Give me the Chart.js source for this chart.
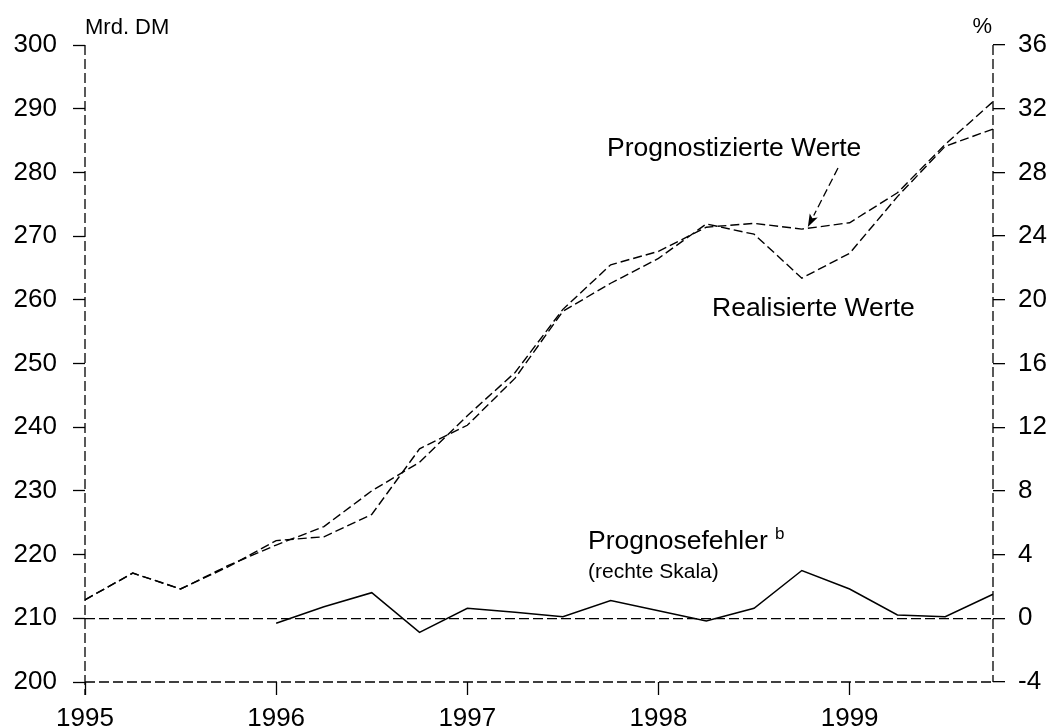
<!DOCTYPE html>
<html><head><meta charset="utf-8">
<script src="https://cdn.jsdelivr.net/npm/chart.js@4.4.1/dist/chart.umd.min.js"></script>
<style>html,body{margin:0;padding:0;background:#fff}#wrap{width:1053px;height:728px}</style>
</head><body><div id="wrap"><canvas id="c" width="1053" height="728"></canvas></div>
<script>
// ---- data ----
const quarters = ['1995 Q1','1995 Q2','1995 Q3','1995 Q4','1996 Q1','1996 Q2','1996 Q3','1996 Q4',
  '1997 Q1','1997 Q2','1997 Q3','1997 Q4','1998 Q1','1998 Q2','1998 Q3','1998 Q4',
  '1999 Q1','1999 Q2','1999 Q3','1999 Q4'];
const yearLabels = ['1995','1996','1997','1998','1999'];
const forecast = [212.9,217.1,214.6,218.3,221.5,224.4,230.0,234.5,241.8,248.6,258.5,265.5,267.6,271.4,272.0,271.1,272.1,276.8,284.4,291.1];
const realized = [212.9,217.1,214.6,218.1,222.2,222.8,226.3,236.6,240.3,247.7,258.2,262.6,266.5,271.9,270.3,263.4,267.3,276.2,284.1,286.8];
const forecastError = [null,null,null,null,-0.31,0.73,1.61,-0.88,0.63,0.38,0.10,1.11,0.48,-0.17,0.63,3.0,1.84,0.21,0.10,1.51];
const leftTickLabels = [200,210,220,230,240,250,260,270,280,290,300];
const rightTickLabels = [-4,0,4,8,12,16,20,24,28,32,36];
const leftUnit = 'Mrd. DM';
const rightUnit = '%';
const labelForecast = 'Prognostizierte Werte';
const labelRealized = 'Realisierte Werte';
const labelError = 'Prognosefehler';
const labelErrorNote = 'b';
const labelErrorScale = '(rechte Skala)';

const FONT = '"Liberation Sans", Arial, Helvetica, sans-serif';
const AXIS_DASH = [10, 4];
const LINE_DASH = [9, 4];

const framePlugin = {
  id: 'frame',
  afterDraw(chart) {
    const {ctx, chartArea: a, scales} = chart;
    const xs = scales.x, ys = scales.y;
    ctx.save();
    ctx.strokeStyle = '#000';
    ctx.lineWidth = 1.3;
    ctx.setLineDash(AXIS_DASH);
    ctx.beginPath();
    ctx.moveTo(a.left, a.top); ctx.lineTo(a.left, a.bottom + 13);
    ctx.moveTo(a.right, a.top); ctx.lineTo(a.right, a.bottom);
    ctx.moveTo(a.left, a.bottom); ctx.lineTo(a.right, a.bottom);
    ctx.stroke();
    ctx.setLineDash([]);
    // units
    ctx.fillStyle = '#000';
    ctx.font = '22px ' + FONT;
    ctx.textBaseline = 'alphabetic';
    ctx.textAlign = 'left';
    ctx.fillText(leftUnit, a.left, 34);
    ctx.textAlign = 'right';
    ctx.fillText(rightUnit, a.right - 1, 33);
    // annotations
    ctx.textAlign = 'left';
    ctx.font = '26.5px ' + FONT;
    ctx.fillText(labelForecast, 607, 156);
    ctx.fillText(labelRealized, 712, 316);
    ctx.fillText(labelError, 588, 549);
    const w = ctx.measureText(labelError + ' ').width;
    ctx.font = '17px ' + FONT;
    ctx.fillText(labelErrorNote, 588 + w, 539);
    ctx.font = '21px ' + FONT;
    ctx.fillText(labelErrorScale, 588, 578);
    // arrow to forecast value in 1998 Q4
    const tipX = xs.getPixelForValue(15) + 6;
    const tipY = ys.getPixelForValue(forecast[15]) - 2;
    const sx = 838, sy = 168;
    const ang = Math.atan2(tipY - sy, tipX - sx);
    const hl = 13, hw = 4.5;
    const bx = tipX - hl * Math.cos(ang), by = tipY - hl * Math.sin(ang);
    ctx.lineWidth = 1.3;
    ctx.setLineDash([8, 4]);
    ctx.beginPath(); ctx.moveTo(sx, sy); ctx.lineTo(bx, by); ctx.stroke();
    ctx.setLineDash([]);
    ctx.beginPath();
    ctx.moveTo(tipX, tipY);
    ctx.lineTo(bx + hw * Math.sin(ang), by - hw * Math.cos(ang));
    ctx.lineTo(bx + 3 * Math.cos(ang), by + 3 * Math.sin(ang));
    ctx.lineTo(bx - hw * Math.sin(ang), by + hw * Math.cos(ang));
    ctx.closePath(); ctx.fill();
    ctx.restore();
  }
};

new Chart(document.getElementById('c'), {
  type: 'line',
  data: {
    labels: quarters,
    datasets: [
      {label: labelForecast, data: forecast, yAxisID: 'y', borderColor: '#000', borderWidth: 1.4, borderDash: LINE_DASH, pointRadius: 0, tension: 0, fill: false},
      {label: labelRealized, data: realized, yAxisID: 'y', borderColor: '#000', borderWidth: 1.4, borderDash: LINE_DASH, pointRadius: 0, tension: 0, fill: false},
      {label: labelError, data: forecastError, yAxisID: 'y2', borderColor: '#000', borderWidth: 1.5, pointRadius: 0, tension: 0, fill: false, spanGaps: false}
    ]
  },
  options: {
    responsive: false,
    animation: false,
    devicePixelRatio: 1,
    layout: {padding: {top: 45, left: 0, right: 0, bottom: 0}},
    plugins: {legend: {display: false}, tooltip: {enabled: false}},
    scales: {
      x: {
        type: 'category',
        offset: false,
        afterFit: s => { s.height = 46; },
        afterBuildTicks: s => { s.ticks = s.ticks.filter(t => t.value % 4 === 0); },
        grid: {drawOnChartArea: false, drawTicks: true, tickLength: 13, tickColor: '#000', tickWidth: 1.3},
        border: {display: false},
        ticks: {autoSkip: false, maxRotation: 0, padding: 8, color: '#000', font: {family: FONT, size: 26},
          callback: (v, i, ticks) => yearLabels[Math.round(ticks[i].value / 4)]}
      },
      y: {
        position: 'left',
        min: leftTickLabels[0], max: leftTickLabels[leftTickLabels.length - 1],
        afterFit: s => { s.width = 85; },
        afterBuildTicks: s => { s.ticks = leftTickLabels.map(v => ({value: v})); },
        grid: {drawOnChartArea: false, drawTicks: true, tickLength: 12, tickColor: '#000', tickWidth: 1.3},
        border: {display: false},
        ticks: {padding: 16, color: '#000', font: {family: FONT, size: 26}}
      },
      y2: {
        position: 'right',
        min: rightTickLabels[0], max: rightTickLabels[rightTickLabels.length - 1],
        afterFit: s => { s.width = 60; },
        afterBuildTicks: s => { s.ticks = rightTickLabels.map(v => ({value: v})); },
        grid: {drawOnChartArea: true, drawTicks: true, tickLength: 12, tickColor: '#000', tickWidth: 1.3,
          color: c => (c.tick && c.tick.value === 0) ? '#000' : 'rgba(0,0,0,0)', lineWidth: 1.3},
        border: {display: false, dash: AXIS_DASH},
        ticks: {padding: 13, color: '#000', font: {family: FONT, size: 26}}
      }
    }
  },
  plugins: [framePlugin]
});
</script>
</body></html>
